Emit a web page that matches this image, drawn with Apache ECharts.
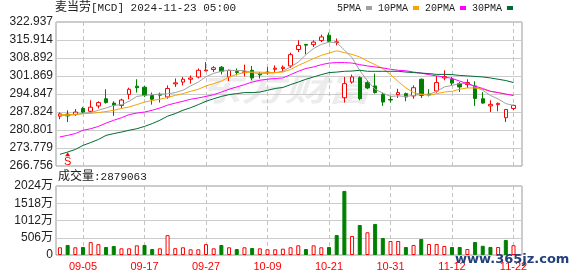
<!DOCTYPE html>
<html><head><meta charset="utf-8">
<script src="https://cdn.jsdelivr.net/npm/echarts@6/dist/echarts.min.js"></script>
<style>html,body{margin:0;padding:0;background:#fff}#c{width:578px;height:276px}</style>
</head><body><div id="c"></div>
<script>
const dates = ['08-30','09-03','09-04','09-05','09-06','09-09','09-10','09-11','09-12','09-13','09-16','09-17','09-18','09-19','09-20','09-23','09-24','09-25','09-26','09-27','09-30','10-01','10-02','10-03','10-04','10-07','10-08','10-09','10-10','10-11','10-14','10-15','10-16','10-17','10-18','10-21','10-22','10-23','10-24','10-25','10-28','10-29','10-30','10-31','11-01','11-04','11-05','11-06','11-07','11-08','11-11','11-12','11-13','11-14','11-15','11-18','11-19','11-20','11-21','11-22'];
// [open, close, low, high]
const candles = [
[286.2,287.1,285.0,287.6],[287.0,286.3,283.9,288.5],[286.8,287.8,286.3,289.0],[289.2,287.8,287.0,289.8],[288.1,289.7,287.6,292.4],
[290.2,291.5,289.2,292.0],[293.0,291.5,291.1,296.7],[291.3,290.5,286.3,292.0],[290.4,292.5,289.2,293.0],[294.7,296.7,292.8,297.3],
[297.9,297.3,295.4,300.6],[297.5,294.3,293.7,298.0],[294.3,292.8,290.7,295.4],[294.7,294.4,291.5,295.4],[293.7,297.0,293.0,298.2],
[298.8,299.2,297.6,300.9],[299.5,300.6,298.2,301.5],[300.6,301.1,298.9,302.1],[301.5,304.1,300.9,304.8],[303.9,304.2,303.7,307.3],
[304.4,305.1,303.4,305.7],[305.3,303.7,302.5,305.8],[301.5,304.1,299.9,304.4],[303.6,303.2,302.1,304.8],[303.2,303.5,301.7,306.3],
[304.1,301.1,300.2,305.8],[302.6,302.3,300.9,303.4],[303.1,303.4,302.4,305.4],[304.5,304.9,303.2,306.0],[304.8,305.3,303.4,306.0],
[305.8,310.2,305.0,311.0],[312.2,313.8,311.2,315.8],[314.2,313.9,310.3,314.4],[314.1,315.1,313.2,315.8],[315.7,317.1,315.1,318.0],
[317.8,315.4,315.1,318.8],[314.9,315.2,313.8,316.5],[293.4,298.9,291.5,301.5],[299.5,301.5,298.9,302.4],[301.2,293.0,292.4,301.7],
[299.3,297.2,296.7,300.2],[298.0,295.4,295.0,302.8],[294.7,291.7,290.2,295.4],[292.7,292.5,291.5,294.1],[294.6,295.4,293.3,296.9],
[295.0,293.7,292.0,295.4],[294.1,297.3,293.0,298.2],[300.6,294.3,293.3,300.9],[294.8,294.5,293.9,296.7],[296.0,299.3,295.4,301.9],
[301.1,301.7,300.2,304.1],[300.6,299.1,298.2,301.5],[298.9,297.6,295.6,299.5],[298.5,299.3,297.2,300.6],[298.0,293.1,290.2,299.8],
[293.0,291.3,291.1,295.6],[290.2,290.8,287.8,292.4],[290.7,291.2,288.1,291.5],[285.6,288.8,283.9,288.8],[289.2,290.4,288.5,290.7]
];
const ma5 = [286.5,286.5,286.8,287.2,287.6,288.5,289.4,290.4,290.7,292.0,293.9,294.3,294.6,294.8,294.9,295.4,296.3,298.0,299.5,301.6,302.9,303.7,304.1,304.0,304.0,303.2,302.8,303.0,303.1,303.8,305.4,307.3,310.2,312.6,314.2,315.1,314.9,312.0,309.0,304.0,300.0,296.7,295.2,293.9,294.1,293.9,294.3,294.7,294.7,295.9,297.6,298.2,298.9,299.0,297.6,296.3,294.3,292.9,291.1,290.4];
const ma10 = [286.8,286.8,286.9,287.2,287.3,287.6,288.0,288.5,289.2,289.8,290.7,291.7,292.3,292.8,293.5,294.3,295.0,295.9,296.7,298.0,298.9,299.9,301.5,302.5,303.2,303.4,303.4,303.2,303.2,303.4,304.4,306.0,307.3,308.7,309.9,310.8,311.7,311.0,310.3,309.3,307.7,306.3,304.8,302.4,299.7,297.2,295.4,294.7,294.3,295.0,295.6,295.9,296.7,297.2,297.2,296.7,295.9,295.4,294.8,294.3];
const ma20 = [278.1,278.7,279.4,280.7,281.3,282.2,283.5,284.6,285.6,286.8,287.4,287.8,288.5,289.4,290.5,291.3,292.0,292.8,293.3,293.9,294.6,295.6,296.7,297.6,298.5,299.5,300.2,300.6,300.9,301.1,302.4,303.7,304.8,305.4,306.3,306.9,307.1,307.1,306.9,306.3,305.8,305.4,305.0,304.5,304.1,303.9,303.4,303.0,302.4,301.9,301.5,300.9,299.9,298.9,297.9,297.0,295.9,295.4,294.8,294.3];
const ma30 = [271.3,272.2,273.2,274.8,275.9,277.1,278.7,279.4,280.0,280.7,281.3,282.2,283.3,284.6,286.2,287.2,288.5,289.5,290.7,292.0,293.0,293.9,294.6,295.0,295.4,295.4,295.6,296.3,297.0,297.4,298.5,299.5,300.6,301.5,302.4,303.2,303.4,303.7,303.8,304.1,303.7,303.7,303.7,303.7,303.7,303.4,303.2,303.0,302.8,302.5,302.5,302.4,302.1,301.9,301.7,301.5,301.1,300.6,300.1,299.3];
const volumes = [2260000,2940000,2260000,2350000,3780000,3180000,2350000,2640000,1960000,1960000,
 2840000,2940000,1760000,1960000,5830000,2000000,2260000,1670000,1670000,3200000,
 1960000,2940000,2260000,1760000,2260000,2060000,1960000,1670000,1670000,1850000,
 2260000,2840000,1760000,2840000,2260000,2350000,5880000,18800000,5580000,8810000,
 6660000,9110000,4990000,4110000,4110000,2350000,2940000,4700000,3230000,3230000,
 2640000,2350000,2350000,1760000,3820000,2700000,2350000,2350000,4410000,2879063];
const volUp = [1,0,1,0,1,1,0,0,1,1, 1,0,0,1,1,1,1,1,1,1, 1,0,1,0,1,0,1,1,1,1,
 1,1,0,1,1,0,0,0,1,0, 1,0,0,1,1,0,1,0,1,1, 1,0,0,1,0,0,0,1,0,1];
const priceTicks = ['266.756','273.779','280.801','287.824','294.847','301.869','308.892','315.914','322.937'];
const volTickLabels = ['0','506万','1012万','1518万','2024万'];
const volStep = 5060000;
const signalIndex = 1, signalPrice = 271.3;
const seriesNames = ['5PMA','10PMA','20PMA','30PMA'];

const RED = '#ff0000', GREEN = '#008000';
const SANS = '"Liberation Sans","Noto Sans CJK SC",sans-serif';
const MONO = '"Liberation Mono","Noto Sans CJK SC",monospace';
const labelInt = (i) => i % 8 === 3;
const gridDates = dates.filter((d, i) => labelInt(i));
const pMin = parseFloat(priceTicks[0]), pMax = parseFloat(priceTicks[priceTicks.length - 1]);
const vMax = volStep * 4;

// vertical dashed guide lines at the labelled dates, positioned by the data grids' own axes
function guideSeries(xi, yi, lo, hi) {
  return {
    type: 'custom', xAxisIndex: xi, yAxisIndex: yi, silent: true, z: 1, clip: false,
    data: gridDates.map((d) => [d, hi]), encode: {x: 0, y: 1},
    renderItem: (params, api) => {
      const top = api.coord([api.value(0), hi]);
      const bot = api.coord([api.value(0), lo]);
      const x = Math.floor(top[0]) + 0.5;
      const children = [];
      for (let y = top[1]; y < bot[1]; y += 7) {
        children.push({type: 'line', shape: {x1: x, y1: y, x2: x, y2: Math.min(y + 4, bot[1])},
                       style: {stroke: '#c4c4c4', lineWidth: 1}});
      }
      return {type: 'group', children};
    }
  };
}

const chart = echarts.init(document.getElementById('c'), null, {renderer: 'canvas'});
const volData = volumes.map((v, i) => volUp[i]
  ? {value: v, itemStyle: {color: '#fff', borderColor: RED, borderWidth: 1}}
  : {value: v, itemStyle: {color: GREEN, borderColor: GREEN, borderWidth: 1}});

const richTitle = {
  a: {fontSize: 12, fontFamily: SANS, color: '#222', fontWeight: 'normal'},
  b: {fontSize: 11, fontFamily: MONO, color: '#222', fontWeight: 'normal'}
};

const DL = 59.9375, DW = 453.5625;

chart.setOption({
  animation: false,
  textStyle: {fontFamily: SANS},
  title: [
    {text: '{a|麦当劳}{b|[MCD] 2024-11-23 05:00}', left: 55, top: 2, padding: 0,
     textStyle: {fontWeight: 'normal', rich: richTitle}},
    {text: '{a|成交量}{b|:2879063}', left: 58, top: 171, padding: 0,
     textStyle: {fontWeight: 'normal', rich: richTitle}}
  ],
  legend: {
    data: seriesNames, left: 337, top: 3, padding: 0, align: 'right', icon: 'rect',
    itemWidth: 6, itemHeight: 4, itemGap: 6, selectedMode: false,
    textStyle: {fontFamily: MONO, fontSize: 10, color: '#222'}
  },
  grid: [
    {left: 56, top: 22, width: 466, height: 144, show: true, borderColor: '#999', borderWidth: 1, backgroundColor: 'transparent', outerBoundsMode: 'none'},
    {left: DL, top: 22, width: DW, height: 144, outerBoundsMode: 'none'},
    {left: 56, top: 186, width: 466, height: 69, show: true, borderColor: '#999', borderWidth: 1, backgroundColor: 'transparent', outerBoundsMode: 'none'},
    {left: DL, top: 186, width: DW, height: 69, outerBoundsMode: 'none'}
  ],
  xAxis: [
    {gridIndex: 0, type: 'category', data: dates, show: false},
    {gridIndex: 1, type: 'category', data: dates, boundaryGap: false,
     axisLine: {show: false}, axisTick: {show: false}, axisLabel: {show: false}, splitLine: {show: false}},
    {gridIndex: 2, type: 'category', data: dates, show: false},
    {gridIndex: 3, type: 'category', data: dates, boundaryGap: false,
     axisLine: {show: false}, axisTick: {show: false},
     axisLabel: {interval: labelInt, color: RED, fontSize: 11, margin: 6, fontFamily: SANS},
     splitLine: {show: false}}
  ],
  yAxis: [
    {gridIndex: 0, type: 'value', min: 0, max: priceTicks.length - 1, interval: 1,
     axisLine: {show: false}, axisTick: {show: false},
     axisLabel: {formatter: (v) => priceTicks[Math.round(v)], color: '#222', fontSize: 12, margin: 3, fontFamily: SANS},
     splitLine: {show: true, lineStyle: {color: '#ccc'}}},
    {gridIndex: 1, type: 'value', min: pMin, max: pMax, show: false},
    {gridIndex: 2, type: 'value', min: 0, max: vMax, interval: volStep,
     axisLine: {show: false}, axisTick: {show: false},
     axisLabel: {formatter: (v) => volTickLabels[Math.round(v / volStep)], color: '#222', fontSize: 12, margin: 3, fontFamily: SANS},
     splitLine: {show: true, lineStyle: {color: '#ccc'}}},
    {gridIndex: 3, type: 'value', min: 0, max: vMax, show: false}
  ],
  graphic: [
    {type: 'text', left: 198, top: 73, z: 0, scaleX: 1.35,
     style: {text: '东方财富', font: 'italic bold 32px "Noto Sans CJK SC"', fill: 'rgba(0,0,0,0.075)'}},
    {type: 'text', left: 455, top: 253, z: 100,
     style: {text: 'www.365jz.com', font: 'bold 13px "DejaVu Sans"', fill: '#23407a'}}
  ],
  series: [
    guideSeries(1, 1, pMin, pMax),
    guideSeries(3, 3, 0, vMax),
    {type: 'candlestick', name: 'K', xAxisIndex: 1, yAxisIndex: 1, data: candles, barWidth: 4, clip: false, z: 3,
     itemStyle: {color: '#fff', color0: GREEN, borderColor: RED, borderColor0: GREEN, borderWidth: 1},
     markPoint: {
       symbol: 'triangle', symbolSize: [5, 4], silent: true,
       data: [{coord: [dates[signalIndex], signalPrice], itemStyle: {color: RED},
               label: {show: true, formatter: 'S', position: 'bottom', distance: 0, color: RED, fontSize: 11, fontFamily: SANS}}]
     }},
    {type: 'line', name: seriesNames[0], xAxisIndex: 1, yAxisIndex: 1, data: ma5, symbol: 'none', color: '#a0a0a0', lineStyle: {width: 1}, z: 4},
    {type: 'line', name: seriesNames[1], xAxisIndex: 1, yAxisIndex: 1, data: ma10, symbol: 'none', color: '#f5a300', lineStyle: {width: 1}, z: 4},
    {type: 'line', name: seriesNames[2], xAxisIndex: 1, yAxisIndex: 1, data: ma20, symbol: 'none', color: '#ff00ff', lineStyle: {width: 1}, z: 4},
    {type: 'line', name: seriesNames[3], xAxisIndex: 1, yAxisIndex: 1, data: ma30, symbol: 'none', color: '#006b33', lineStyle: {width: 1}, z: 4},
    {type: 'bar', name: 'VOL', xAxisIndex: 3, yAxisIndex: 3, data: volData, barWidth: 4, clip: false, z: 3}
  ]
});
</script></body></html>
